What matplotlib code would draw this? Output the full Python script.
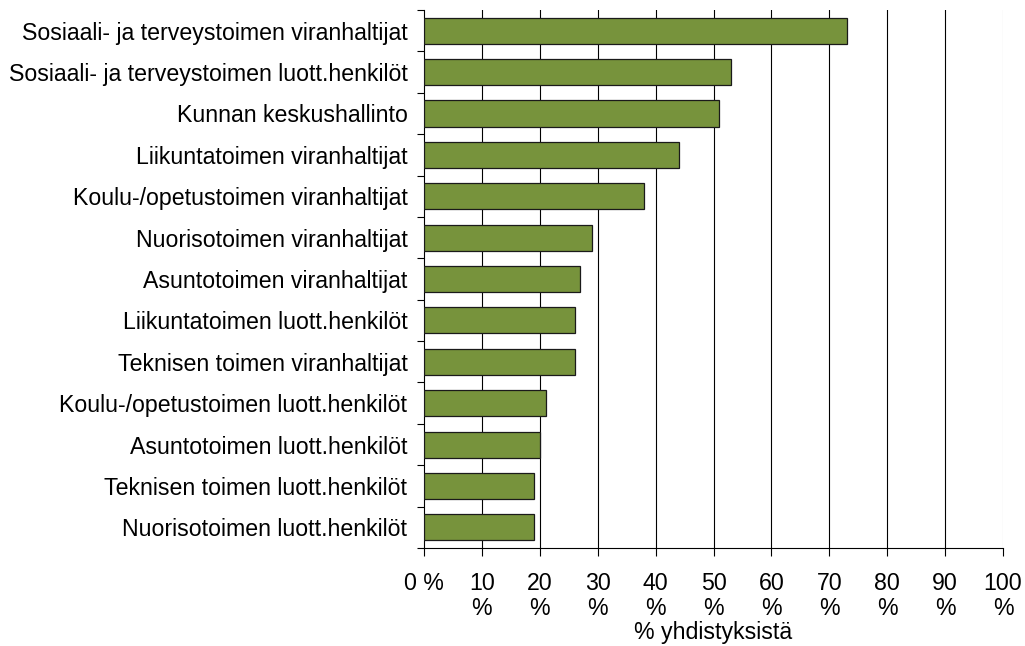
import numpy as np
import matplotlib
matplotlib.use('Agg')
import matplotlib.pyplot as plt
from matplotlib.ticker import FixedLocator

plt.rcParams['font.family'] = ['Liberation Sans', 'DejaVu Sans']

categories = [
    'Sosiaali- ja terveystoimen viranhaltijat',
    'Sosiaali- ja terveystoimen luott.henkilöt',
    'Kunnan keskushallinto',
    'Liikuntatoimen viranhaltijat',
    'Koulu-/opetustoimen viranhaltijat',
    'Nuorisotoimen viranhaltijat',
    'Asuntotoimen viranhaltijat',
    'Liikuntatoimen luott.henkilöt',
    'Teknisen toimen viranhaltijat',
    'Koulu-/opetustoimen luott.henkilöt',
    'Asuntotoimen luott.henkilöt',
    'Teknisen toimen luott.henkilöt',
    'Nuorisotoimen luott.henkilöt',
]
values = [73, 53, 51, 44, 38, 29, 27, 26, 26, 21, 20, 19, 19]
xticks = [0, 10, 20, 30, 40, 50, 60, 70, 80, 90, 100]
xticklabels = ['0 %'] + [f'{v}\n%' for v in xticks[1:]]

fs = 16.7
fig = plt.figure(figsize=(10.25, 6.46), dpi=100)
ax = fig.add_axes([0.4137, 0.1517, 0.5648, 0.8328])

y = np.arange(len(categories))
ax.barh(y, values, height=0.63, color='#77933C', edgecolor='#1a1a1a', linewidth=0.9, zorder=3)

ax.set_xlim(0, 100)
ax.set_ylim(len(categories) - 0.5, -0.5)

ax.set_xticks(xticks)
ax.set_xticklabels(xticklabels, fontsize=fs, linespacing=1.12, va='top')
ax.set_yticks(y)
ax.set_yticklabels(categories, fontsize=fs)
ax.yaxis.set_minor_locator(FixedLocator(np.arange(len(categories) + 1) - 0.5))
ax.tick_params(axis='y', which='major', length=0, pad=12)
ax.tick_params(axis='y', which='minor', length=5, width=0.8)
ax.tick_params(axis='x', length=6, width=0.8, pad=11)

for v in xticks[1:-1]:
    ax.axvline(v, color='black', linewidth=0.8, zorder=1)
ax.axvline(100, color='#c0c0c0', linewidth=0.8, zorder=1)

ax.spines['top'].set_visible(False)
ax.spines['right'].set_visible(False)
ax.spines['left'].set_linewidth(0.8)
ax.spines['bottom'].set_linewidth(0.8)

ax.set_xlabel('% yhdistyksistä', fontsize=fs, labelpad=1)

fig.savefig('out.png', dpi=100)
